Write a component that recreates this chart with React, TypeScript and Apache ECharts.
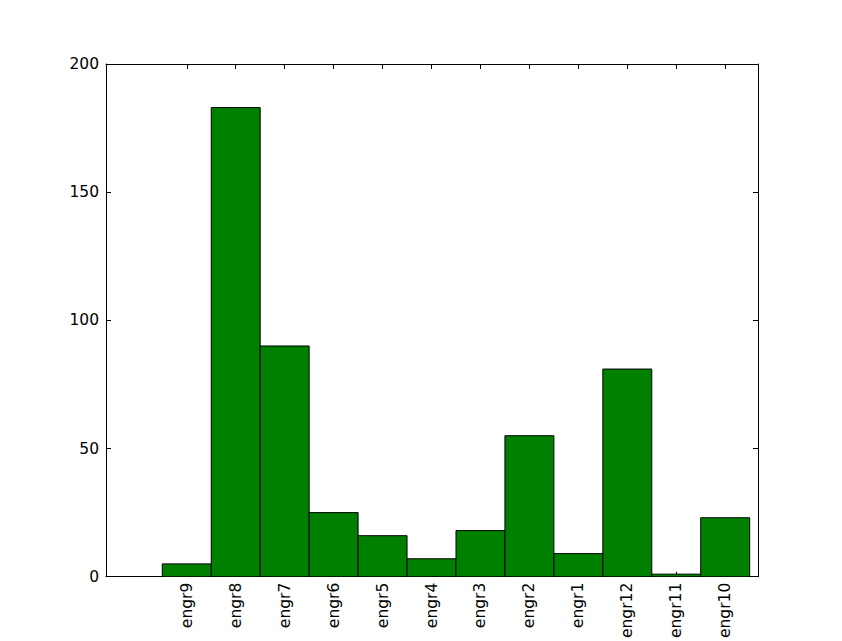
import React, { useEffect, useRef } from "react";
import * as echarts from "echarts";

const categories = ["engr9", "engr8", "engr7", "engr6", "engr5", "engr4", "engr3", "engr2", "engr1", "engr12", "engr11", "engr10"];
const values = [5, 183, 90, 25, 16, 7, 18, 55, 9, 81, 1, 23];
const yTicks = [0, 50, 100, 150, 200];

export default function App() {
  const ref = useRef<HTMLDivElement>(null);
  useEffect(() => {
    if (!ref.current) return;
    const chart = echarts.init(ref.current, null, { renderer: "svg" });
    const idx = categories.map((_, i) => i);
    const font = "DejaVu Sans";
    const xMin = -1.65;
    const xMax = 11.67;
    const common = {
      type: "value" as const,
      min: xMin,
      max: xMax,
      splitLine: { show: false },
      axisLine: { show: true, onZero: false, lineStyle: { color: "#000", width: 1 } },
      axisTick: { show: true, inside: true, length: 5, customValues: idx, lineStyle: { color: "#000" } },
    };
    const yCommon = {
      type: "value" as const,
      min: 0,
      max: 200,
      interval: 50,
      splitLine: { show: false },
      axisLine: { show: true, onZero: false, lineStyle: { color: "#000", width: 1 } },
      axisTick: { show: true, inside: true, length: 5, lineStyle: { color: "#000" } },
    };
    chart.setOption({
      animation: false,
      backgroundColor: "#fff",
      grid: { left: 106, top: 64, right: 84, bottom: 64, containLabel: false },
      xAxis: [
        {
          ...common,
          position: "bottom",
          axisLabel: {
            show: true,
            customValues: idx,
            rotate: 90,
            margin: 6,
            fontFamily: font,
            fontSize: 15.5,
            color: "#000",
            formatter: (v: number) => categories[Math.round(v)] ?? "",
          },
        },
        {
          ...common,
          position: "top",
          axisLabel: { show: false },
        },
      ],
      yAxis: [
        {
          ...yCommon,
          position: "left",
          axisLabel: {
            margin: 7,
            fontFamily: font,
            fontSize: 15.5,
            color: "#000",
            formatter: (v: number) => (yTicks.includes(v) ? String(v) : ""),
          },
        },
        {
          ...yCommon,
          position: "right",
          axisLabel: { show: false },
        },
      ],
      series: [
        {
          type: "custom",
          xAxisIndex: 0,
          yAxisIndex: 0,
          clip: true,
          data: values.map((v, i) => [i, v]),
          renderItem: (params: any, api: any) => {
            const i = api.value(0);
            const v = api.value(1);
            const p0 = api.coord([i - 0.5, v]);
            const p1 = api.coord([i + 0.5, 0]);
            return {
              type: "rect",
              shape: { x: p0[0], y: p0[1], width: p1[0] - p0[0], height: p1[1] - p0[1] },
              style: { fill: "#008000", stroke: "#000", lineWidth: 1 },
            };
          },
        },
      ],
    });
    return () => chart.dispose();
  }, []);
  return <div ref={ref} style={{ width: 842, height: 641, position: "absolute", left: 0, top: 0 }} />;
}
